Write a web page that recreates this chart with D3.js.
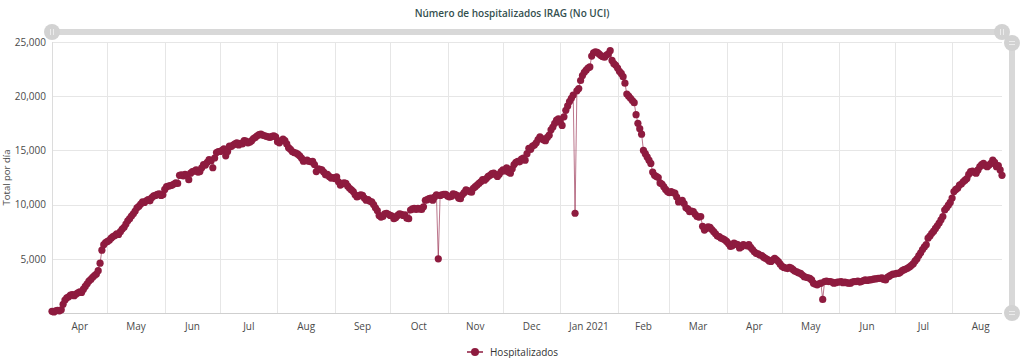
<!DOCTYPE html>
<html>
<head>
<meta charset="utf-8">
<script src="https://cdn.jsdelivr.net/npm/d3@7"></script>
<style>
  html, body { margin: 0; padding: 0; background: #fff; }
  svg { display: block; font-family: "Open Sans", "Noto Sans", sans-serif; }
</style>
</head>
<body>
<svg id="chart" width="1024" height="358"></svg>
<script>
// ---- Data (daily values) ----
const title = "Número de hospitalizados IRAG (No UCI)";
const yTitle = "Total por día";
const seriesName = "Hospitalizados";
const startDate = "2020-04-01";

const apr2020 = [150,100,200,250,200,300,800,1200,1400,1500,1650,1700,1600,1750,1850,1950,1900,2200,2450,2700,2950,3100,3300,3450,3600,3900,4600,5800,6300,6500];
const may2020 = [6600,6700,6900,7050,7150,7300,7250,7500,7750,7900,8200,8500,8700,8950,9150,9400,9700,9850,10050,10250,10200,10350,10450,10350,10650,10800,10850,10950,11000,10850,10900];
const jun2020 = [11400,11650,11700,11750,11800,11900,12000,11950,12700,12750,12650,12800,12700,12300,12900,13050,13100,13200,13000,13050,13400,13700,13650,13900,14150,14050,13400,14300,14800,14900];
const jul2020 = [14900,15000,15150,14500,14900,15400,15350,15500,15600,15700,15500,15650,15600,15900,15850,15700,15750,15900,16100,16200,16350,16450,16500,16400,16350,16300,16250,16200,16300,16350,16250];
const aug2020 = [15800,15700,15900,16050,15900,15600,15250,15100,14900,14800,14750,14650,14500,14300,14000,14050,14100,14000,13950,14000,13700,13050,13300,13250,13200,13000,12750,12800,12600,12450,12500];
const sep2020 = [12400,12550,12100,11800,11900,12000,11950,11700,11500,11350,11200,10900,10700,10800,10900,10850,10600,10400,10450,10300,10250,10000,9700,9450,9000,8850,8900,9150,9200,9100];
const oct2020 = [9000,8950,8700,8800,9000,9150,9100,9000,9050,8750,8700,9500,9600,9650,9550,9650,9600,9550,9800,10400,10450,10550,10600,10400,10700,10900,5000,10850,10900,10950,10950];
const nov2020 = [10800,10700,10750,11000,10950,10850,10600,10550,10900,11100,11350,11300,11200,11150,11500,11650,11800,11950,12100,12300,12250,12400,12600,12700,12850,12900,12750,12600,12800,13050];
const dec2020 = [13200,13100,13400,13000,12900,13300,13700,13900,14000,13950,14200,14300,14100,14700,15200,15100,15400,15500,15700,16000,16250,16100,15950,15900,16200,16400,16900,17150,17500,17800,17900];
const jan2021 = [17600,17300,18100,18700,19100,19500,19800,20100,9200,20500,20700,21450,21900,22200,22400,22600,22700,23700,24000,24100,24050,23900,23750,23650,23600,23800,23900,24200,23300,23000,22850];
const feb2021 = [22600,22300,22100,21800,21200,20200,20000,19800,19600,19400,18300,17500,17000,16500,15000,14700,14400,14100,13800,13000,12700,12600,12500,12000,11900,11650,11400,11200];
const mar2021 = [11100,11200,11100,11050,10700,10250,10300,10400,10100,9700,9600,9350,9400,9350,9100,8900,8850,8900,8000,7650,7800,7950,7900,7700,7500,7300,7100,7050,6900,6850,6750];
const apr2021 = [6600,6400,6150,6200,6450,6350,6300,6000,6100,6300,6250,6200,6300,6050,5850,5650,5500,5450,5350,5300,5150,5050,4950,4800,4750,4900,5050,4900,4750,4500];
const may2021 = [4300,4200,4150,4100,4200,4150,4000,3850,3800,3700,3650,3500,3350,3300,3250,3200,3050,2750,2650,2600,2700,2750,1250,2900,2950,2900,2900,2850,2750,2800,2850];
const jun2021 = [2850,2900,2800,2850,2800,2750,2750,2850,2900,2900,2950,2850,2900,3000,3050,3000,3050,3050,3100,3150,3150,3200,3200,3250,3100,3050,3300,3400,3500,3600];
const jul2021 = [3600,3650,3650,3750,3900,4000,4050,4150,4250,4400,4550,4800,5000,5300,5550,5850,6100,6300,6900,7100,7350,7550,7800,8050,8300,8600,8900,9500,9700,9950,10200];
const aug2021 = [10600,11200,11400,11500,11800,11900,12100,12250,12400,12800,13050,13100,12950,12900,13200,13500,13700,13800,13600,13500,13650,13800,14100,13900,13500,13600,13200,12700];

const monthLabels = ["Apr","May","Jun","Jul","Aug","Sep","Oct","Nov","Dec","Jan 2021","Feb","Mar","Apr","May","Jun","Jul","Aug"];
const yTicks = [5000,10000,15000,20000,25000];

(function () {
// ---- Build series ----
const values = [].concat(apr2020, may2020, jun2020, jul2020, aug2020, sep2020, oct2020, nov2020, dec2020,
  jan2021, feb2021, mar2021, apr2021, may2021, jun2021, jul2021, aug2021);
const parse = d3.utcParse("%Y-%m-%d");
const t0 = parse(startDate);
const data = values.map((v, i) => ({ date: d3.utcDay.offset(t0, i), value: v }));

// ---- Layout ----
const svg = d3.select("#chart");
const pL = 52, pR = 1002, pT = 42, pB = 313;
const color = "#8e1b3f";
const gridColor = "#e6e6e6";

const x = d3.scaleUtc().domain([data[0].date, data[data.length - 1].date]).range([pL, pR]);
const y = d3.scaleLinear().domain([0, 25000]).range([pB, pT]);

const monthStarts = d3.utcMonth.range(d3.utcMonth.floor(data[0].date),
  d3.utcMonth.offset(d3.utcMonth.floor(data[data.length - 1].date), 1));

// horizontal grid
svg.append("g").selectAll("line").data(yTicks).join("line")
  .attr("x1", pL).attr("x2", pR)
  .attr("y1", d => Math.round(y(d)) + 0.5).attr("y2", d => Math.round(y(d)) + 0.5)
  .attr("stroke", gridColor).attr("stroke-width", 1);

// vertical grid at month starts
svg.append("g").selectAll("line").data(monthStarts.filter(d => x(d) > pL + 1)).join("line")
  .attr("x1", d => Math.round(x(d)) + 0.5).attr("x2", d => Math.round(x(d)) + 0.5)
  .attr("y1", pT).attr("y2", pB)
  .attr("stroke", gridColor).attr("stroke-width", 1);

// axis lines
svg.append("line").attr("x1", pL + 0.5).attr("x2", pL + 0.5).attr("y1", pT).attr("y2", pB)
  .attr("stroke", "#dcdcdc");
svg.append("line").attr("x1", pL).attr("x2", pR).attr("y1", pB + 0.5).attr("y2", pB + 0.5)
  .attr("stroke", "#cfcfcf");

// y tick labels
const yAxis = d3.axisLeft(y).tickValues(yTicks).tickFormat(d3.format(",")).tickSize(0).tickPadding(6);
const yg = svg.append("g").attr("transform", `translate(${pL},0)`).call(yAxis);
yg.select(".domain").remove();
yg.selectAll("text").attr("font-size", 10).attr("fill", "#4a4a4a").attr("font-family", "Open Sans");

// x labels centered in month spans
svg.append("g").selectAll("text").data(monthStarts).join("text")
  .attr("x", d => (x(d) + x(d3.utcMonth.offset(d, 1))) / 2)
  .attr("y", 326).attr("dy", "0.35em")
  .attr("text-anchor", "middle")
  .attr("font-size", 10).attr("fill", "#4a4a4a")
  .text((d, i) => monthLabels[i]);

// y title
svg.append("text")
  .attr("transform", `translate(7,${(pT + pB) / 2}) rotate(-90)`)
  .attr("text-anchor", "middle").attr("dy", "0.35em")
  .attr("font-size", 9.5).attr("fill", "#4a4a4a")
  .text(yTitle);

// title
svg.append("text")
  .attr("x", 512).attr("y", 13).attr("dy", "0.35em")
  .attr("text-anchor", "middle")
  .attr("font-size", 10).attr("font-weight", 600).attr("fill", "#34504f")
  .text(title);

// navigator bars (decorative)
const barColor = "#d8d8d8";
svg.append("line").attr("x1", 52).attr("x2", 1002).attr("y1", 32).attr("y2", 32)
  .attr("stroke", barColor).attr("stroke-width", 6);
svg.append("line").attr("x1", 1012).attr("x2", 1012).attr("y1", 43).attr("y2", 313)
  .attr("stroke", barColor).attr("stroke-width", 6);
function handle(cx, cy, vertical) {
  const g = svg.append("g");
  g.append("circle").attr("cx", cx).attr("cy", cy).attr("r", 8).attr("fill", "#d2d2d2");
  if (vertical) {
    [-1.5, 1.5].forEach(o => g.append("line").attr("x1", cx + o).attr("x2", cx + o)
      .attr("y1", cy - 3).attr("y2", cy + 3).attr("stroke", "#f2f2f2").attr("stroke-width", 0.8));
  } else {
    [-1.5, 1.5].forEach(o => g.append("line").attr("y1", cy + o).attr("y2", cy + o)
      .attr("x1", cx - 3).attr("x2", cx + 3).attr("stroke", "#f2f2f2").attr("stroke-width", 0.8));
  }
}
handle(52, 32, true);
handle(1002, 32, true);
handle(1012, 43, false);
handle(1012, 313, false);

// series line
const line = d3.line().x(d => x(d.date)).y(d => y(d.value));
svg.append("path").datum(data)
  .attr("d", line).attr("fill", "none")
  .attr("stroke", color).attr("stroke-opacity", 0.6).attr("stroke-width", 1);

// markers
svg.append("g").selectAll("circle").data(data).join("circle")
  .attr("cx", d => x(d.date)).attr("cy", d => y(d.value))
  .attr("r", 3.6).attr("fill", color);

// legend
const lg = svg.append("g").attr("transform", "translate(475,352)");
lg.append("line").attr("x1", -8).attr("x2", 8).attr("y1", 0).attr("y2", 0)
  .attr("stroke", color).attr("stroke-width", 1.5);
lg.append("circle").attr("r", 4).attr("fill", color);
lg.append("text").attr("x", 15).attr("dy", "0.35em")
  .attr("font-size", 10).attr("fill", "#333").text(seriesName);
})();
</script>
</body>
</html>
